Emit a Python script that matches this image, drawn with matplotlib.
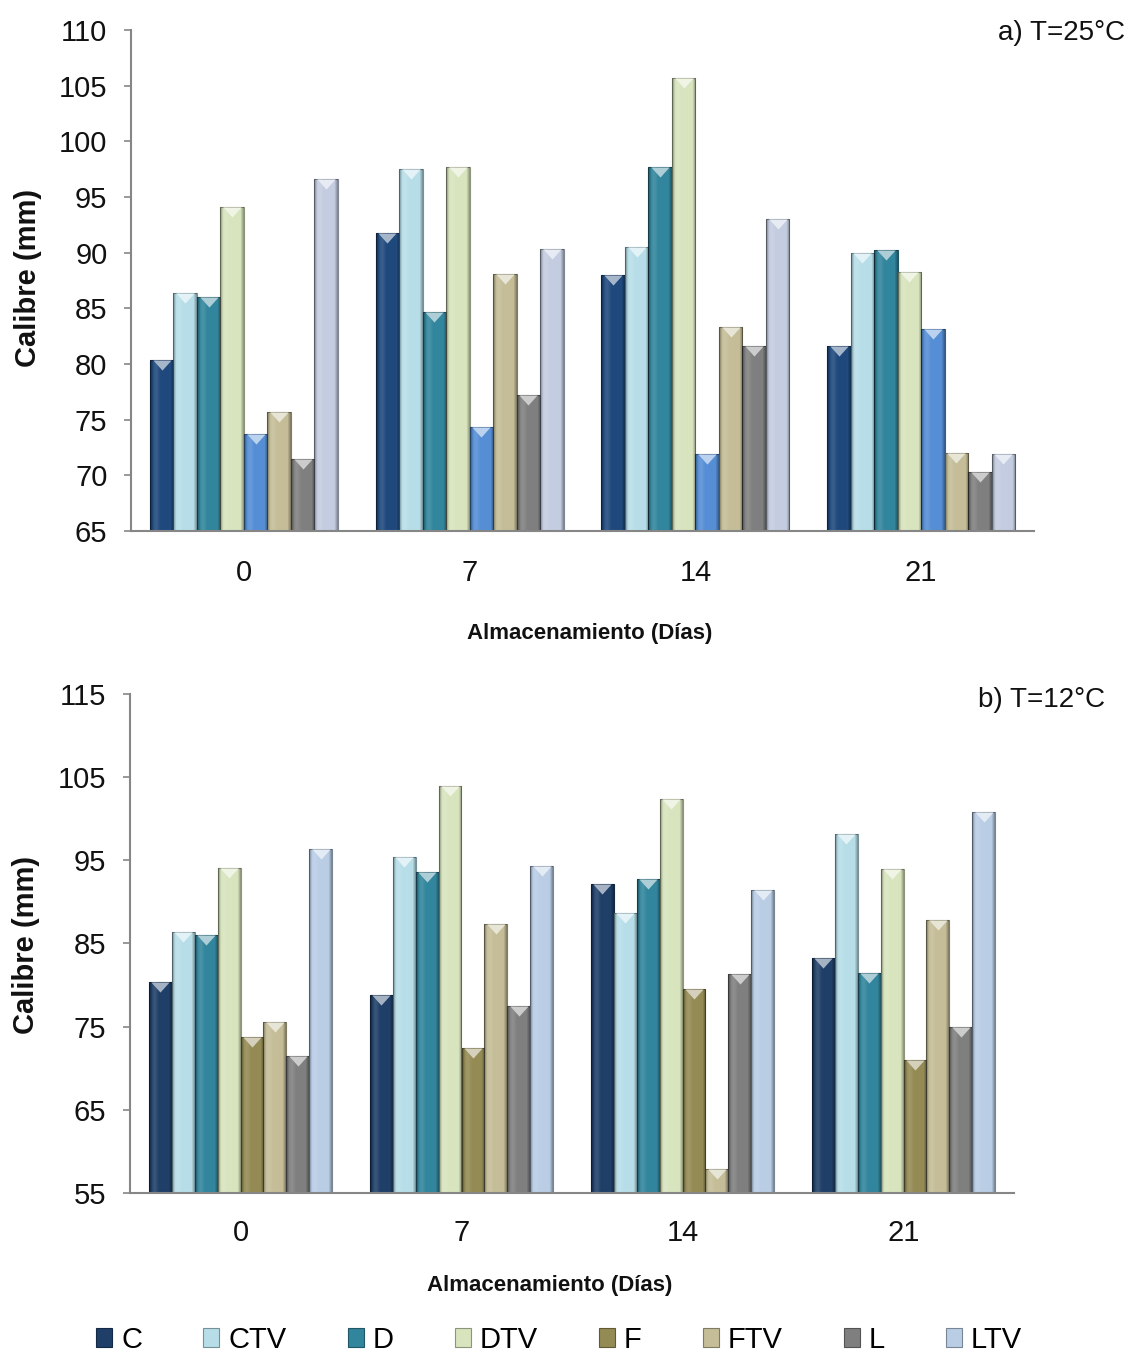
import numpy as np
import matplotlib
matplotlib.use("Agg")
import matplotlib.pyplot as plt
from matplotlib.colors import to_rgb
from matplotlib.patches import Patch
from matplotlib.path import Path

plt.rcParams['font.family'] = ['Liberation Sans', 'DejaVu Sans']

# ---------------- data ----------------
series = ['C', 'CTV', 'D', 'DTV', 'F', 'FTV', 'L', 'LTV']
days = ['0', '7', '14', '21']

# a) T=25°C
top_C   = [80.4, 91.8, 88.0, 81.6]
top_CTV = [86.4, 97.5, 90.5, 90.0]
top_D   = [86.0, 84.7, 97.7, 90.2]
top_DTV = [94.1, 97.7, 105.7, 88.3]
top_F   = [73.7, 74.3, 71.9, 83.1]
top_FTV = [75.7, 88.1, 83.3, 72.0]
top_L   = [71.5, 77.2, 81.6, 70.3]
top_LTV = [96.6, 90.3, 93.0, 71.9]

# b) T=12°C
bot_C   = [80.4, 78.8, 92.2, 83.3]
bot_CTV = [86.4, 95.4, 88.7, 98.2]
bot_D   = [86.0, 93.6, 92.8, 81.4]
bot_DTV = [94.1, 103.9, 102.4, 93.9]
bot_F   = [73.7, 72.4, 79.5, 71.0]
bot_FTV = [75.6, 87.4, 57.9, 87.8]
bot_L   = [71.5, 77.5, 81.3, 75.0]
bot_LTV = [96.4, 94.3, 91.4, 100.8]

top_yticks = [65, 70, 75, 80, 85, 90, 95, 100, 105, 110]
bot_yticks = [55, 65, 75, 85, 95, 105, 115]

top_colors = ['#1F497D', '#B7DEE8', '#31859C', '#D7E4BD',
              '#558ED5', '#C4BD97', '#7F7F7F', '#C3CCE0']
bot_colors = ['#1F3F68', '#B7DEE8', '#31859C', '#D7E4BD',
              '#948A54', '#C4BD97', '#7F7F7F', '#B9CDE5']

top_data = [top_C, top_CTV, top_D, top_DTV, top_F, top_FTV, top_L, top_LTV]
bot_data = [bot_C, bot_CTV, bot_D, bot_DTV, bot_F, bot_FTV, bot_L, bot_LTV]

# ---------------- styling helpers ----------------
def mix(c, other, t):
    c = np.array(to_rgb(c)); o = np.array(to_rgb(other))
    return tuple(c * (1 - t) + o * t)

# horizontal shading overlay (bevel look)
u = np.linspace(0, 1, 64)
dark = np.clip(1 - np.minimum(u, 1 - u) / 0.14, 0, 1) * 0.35
light = np.exp(-((u - 0.25) / 0.12) ** 2) * 0.12
overlay = np.zeros((1, 64, 4))
rgb = np.where(dark[:, None] > light[:, None], 0.0, 1.0)
overlay[0, :, :3] = rgb
overlay[0, :, 3] = np.maximum(dark, light)

tri_marker = Path([(-0.9, 0.0), (0.9, 0.0), (0.0, -1.0), (-0.9, 0.0)],
                  [Path.MOVETO, Path.LINETO, Path.LINETO, Path.CLOSEPOLY])

fig = plt.figure(figsize=(11.3, 13.58), dpi=100)

def draw(ax_rect, data, colors, yticks, label, label_xy, xlabel_xy, ylabel_xy, tickpad):
    ax = fig.add_axes(ax_rect)
    x = np.arange(len(days))
    n = len(series)
    w = 0.104
    ymin = yticks[0]
    for i, (vals, col) in enumerate(zip(data, colors)):
        pos = x + (i - (n - 1) / 2) * w
        bars = ax.bar(pos, vals, width=w, color=col,
                      edgecolor=mix(col, 'black', 0.35), linewidth=0.8, zorder=2)
        for b in bars:
            x0 = b.get_x(); x1 = x0 + b.get_width()
            y1 = b.get_height()
            im = ax.imshow(overlay, extent=[x0, x1, ymin, y1], aspect='auto',
                           zorder=2.1, interpolation='bilinear')
            im.set_clip_path(b)
        ax.plot(pos, vals, linestyle='none', marker=tri_marker, markersize=14.5,
                color=mix(col, 'white', 0.6), markeredgewidth=0, zorder=2.2)
    ax.set_xlim(-0.5, len(days) - 0.5)
    ax.set_ylim(yticks[0], yticks[-1])
    ax.set_yticks(yticks)
    ax.set_xticks(x)
    ax.set_xticklabels(days)
    for s in ['top', 'right']:
        ax.spines[s].set_visible(False)
    for s in ['left', 'bottom']:
        ax.spines[s].set_color('#868686')
        ax.spines[s].set_linewidth(1.5)
    ax.tick_params(axis='y', length=5, width=1.2, color='#868686',
                   labelsize=21, pad=12, labelcolor='#111111')
    ax.tick_params(axis='x', length=0, labelsize=21, pad=tickpad,
                   labelcolor='#111111')
    ax.set_facecolor('white')
    fig.text(label_xy[0], label_xy[1], label, ha='right', va='center',
             fontsize=20, color='#111111')
    fig.text(xlabel_xy[0], xlabel_xy[1], 'Almacenamiento (Días)', ha='center',
             va='center', fontsize=16, fontweight='bold', color='#111111')
    fig.text(ylabel_xy[0], ylabel_xy[1], 'Calibre (mm)', ha='center',
             va='center', rotation=90, fontsize=21, fontweight='bold',
             color='#111111')
    return ax

W, H = 1130, 1358
draw([131 / W, 1 - 531 / H, 903 / W, 501 / H], top_data, top_colors,
     top_yticks, 'a) T=25°C', (1125 / W, 1 - 33 / H),
     (590 / W, 1 - 633 / H), (28 / W, 1 - 278 / H), 20)
draw([130 / W, 1 - 1193 / H, 884 / W, 499 / H], bot_data, bot_colors,
     bot_yticks, 'b) T=12°C', (1105 / W, 1 - 700 / H),
     (550 / W, 1 - 1285 / H), (26 / W, 1 - 945 / H), 19)

handles = [Patch(facecolor=c, edgecolor=mix(c, 'black', 0.35), linewidth=0.8)
           for c in bot_colors]
fig.legend(handles, series, loc='center', bbox_to_anchor=(559 / W, 1 - 1340 / H),
           ncol=8, frameon=False, fontsize=21, handlelength=0.55,
           handleheight=0.65, handletextpad=0.3, columnspacing=2.1,
           borderaxespad=0)

fig.savefig('out.png', dpi=100, facecolor='white')
